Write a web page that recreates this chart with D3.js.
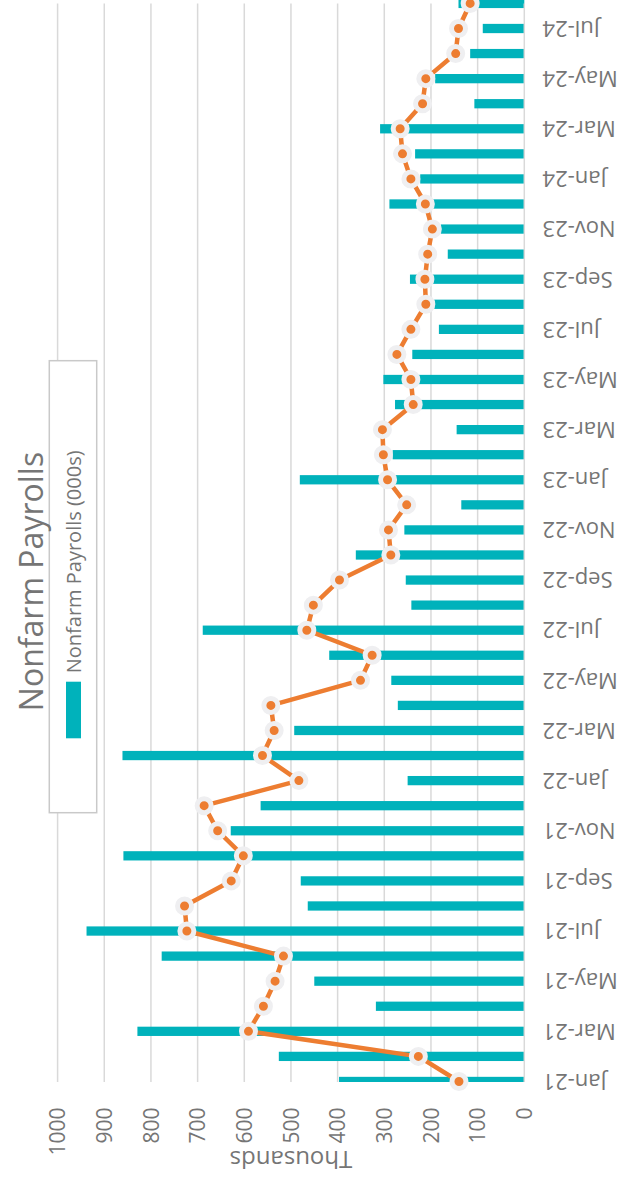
<!DOCTYPE html>
<html>
<head>
<meta charset="utf-8">
<script src="https://cdn.jsdelivr.net/npm/d3@7"></script>
<style>
  html, body { margin: 0; padding: 0; background: #fff; }
  svg { display: block; font-family: "Open Sans", "Noto Sans", sans-serif; }
</style>
</head>
<body>
<svg id="chart" width="619" height="1181"></svg>
<script>
// ---- data ----
const categories = [
  "Jan-21","Feb-21","Mar-21","Apr-21","May-21","Jun-21","Jul-21","Aug-21","Sep-21","Oct-21","Nov-21","Dec-21",
  "Jan-22","Feb-22","Mar-22","Apr-22","May-22","Jun-22","Jul-22","Aug-22","Sep-22","Oct-22","Nov-22","Dec-22",
  "Jan-23","Feb-23","Mar-23","Apr-23","May-23","Jun-23","Jul-23","Aug-23","Sep-23","Oct-23","Nov-23","Dec-23",
  "Jan-24","Feb-24","Mar-24","Apr-24","May-24","Jun-24","Jul-24","Aug-24"
];
const payrolls = [
  397, 526, 829, 318, 450, 777, 938, 464, 479, 859, 629, 565,
  250, 861, 493, 271, 285, 418, 689, 242, 254, 361, 257, 135,
  481, 282, 145, 277, 302, 240, 183, 193, 245, 164, 179, 289,
  223, 234, 309, 107, 191, 116, 89, 141
];
const lineValues = [
  140, 227, 591, 559, 534, 516, 723, 728, 628, 602, 657, 686,
  483, 561, 536, 543, 351, 326, 466, 452, 396, 286, 291, 252,
  293, 302, 304, 238, 243, 273, 243, 211, 213, 207, 197, 212,
  243, 261, 266, 218, 211, 147, 141, 116
];
const valueTicks = [0, 100, 200, 300, 400, 500, 600, 700, 800, 900, 1000];
const categoryTicks = categories.filter((c, i) => i % 2 === 0);
const titleText = "Nonfarm Payrolls";
const legendText = "Nonfarm Payrolls (000s)";
const axisTitle = "Thousands";

// ---- styles ----
const TEAL = "#00B2BB", ORANGE = "#ED7D31", GRID = "#D9D9D9", TEXT = "#757575";

const svg = d3.select("#chart");

// value scale runs right-to-left (0 at right), categories bottom-to-top
const x = d3.scaleLinear().domain([0, 1000]).range([524.3, 57.6]);
const y = d3.scaleBand().domain(categories).range([1094, -9.1])
  .paddingInner(0.63).paddingOuter(0.315);
const plotTop = 3.5, plotBottom = 1082;

svg.append("defs").append("clipPath").attr("id", "plotclip")
  .append("rect").attr("x", 0).attr("y", -20).attr("width", 619).attr("height", plotBottom + 20);

// gridlines
svg.append("g").selectAll("line").data(valueTicks.filter(v => v > 0)).join("line")
  .attr("x1", d => x(d)).attr("x2", d => x(d))
  .attr("y1", plotTop).attr("y2", plotBottom)
  .attr("stroke", GRID).attr("stroke-width", 1.5);

// legend box (drawn before bars, covers gridlines)
svg.append("rect").attr("x", 49.3).attr("y", 360.7).attr("width", 47.4).attr("height", 452)
  .attr("fill", "#fff").attr("stroke", "#C9C9C9").attr("stroke-width", 1.5);
svg.append("rect").attr("x", 66).attr("y", 681.7).attr("width", 15).attr("height", 56.6).attr("fill", TEAL);
svg.append("text").attr("transform", "translate(80.5,673.3) rotate(-90)")
  .attr("text-anchor", "start").attr("font-size", 20).attr("fill", TEXT).text(legendText);

// bars
svg.append("g").attr("clip-path", "url(#plotclip)")
  .selectAll("rect").data(categories).join("rect")
  .attr("x", (d, i) => x(payrolls[i]))
  .attr("width", (d, i) => x(0) - x(payrolls[i]))
  .attr("y", d => y(d))
  .attr("height", y.bandwidth())
  .attr("fill", TEAL);

// category axis (right side)
const yAxis = d3.axisRight(y).tickValues(categoryTicks).tickSize(0);
const gy = svg.append("g").attr("transform", `translate(${x(0)},0)`).call(yAxis);
gy.select(".domain").attr("stroke", GRID).attr("stroke-width", 1.5)
  .attr("d", `M0,${plotTop}V${plotBottom}`);
gy.selectAll("text")
  .attr("x", 0).attr("dy", "0.35em")
  .attr("transform", "translate(18.2,0) rotate(180)")
  .attr("text-anchor", "end")
  .attr("font-size", 22).attr("font-family", "Open Sans, sans-serif")
  .attr("fill", TEXT);

// value axis (bottom)
const xAxis = d3.axisBottom(x).tickValues(valueTicks).tickSize(0).tickFormat(d3.format("d"));
const gx = svg.append("g").attr("transform", "translate(0,1107.5)").call(xAxis);
gx.select(".domain").remove();
gx.selectAll("text")
  .attr("x", 0).attr("y", 0).attr("dy", "0.35em")
  .attr("transform", "rotate(-90)")
  .attr("text-anchor", "end")
  .attr("font-size", 21).attr("font-family", "Open Sans, sans-serif")
  .attr("fill", TEXT);

// axis title
svg.append("text").attr("transform", `translate(${(x(0) + x(1000)) / 2},1151) rotate(180)`)
  .attr("text-anchor", "middle").attr("font-size", 24).attr("fill", TEXT).text(axisTitle);

// chart title
svg.append("text").attr("transform", "translate(42.7,581.5) rotate(-90)")
  .attr("text-anchor", "middle").attr("font-size", 32).attr("fill", TEXT).text(titleText);

// line + markers
const line = d3.line().x((d, i) => x(d)).y((d, i) => y(categories[i]) + y.bandwidth() / 2);
svg.append("path").datum(lineValues).attr("d", line)
  .attr("fill", "none").attr("stroke", ORANGE).attr("stroke-width", 4.5)
  .attr("stroke-linejoin", "round").attr("stroke-linecap", "round");
svg.append("g").selectAll("circle").data(lineValues).join("circle")
  .attr("cx", d => x(d))
  .attr("cy", (d, i) => y(categories[i]) + y.bandwidth() / 2)
  .attr("r", 7).attr("fill", ORANGE)
  .attr("stroke", "#EFEFF1").attr("stroke-width", 5);
</script>
</body>
</html>
